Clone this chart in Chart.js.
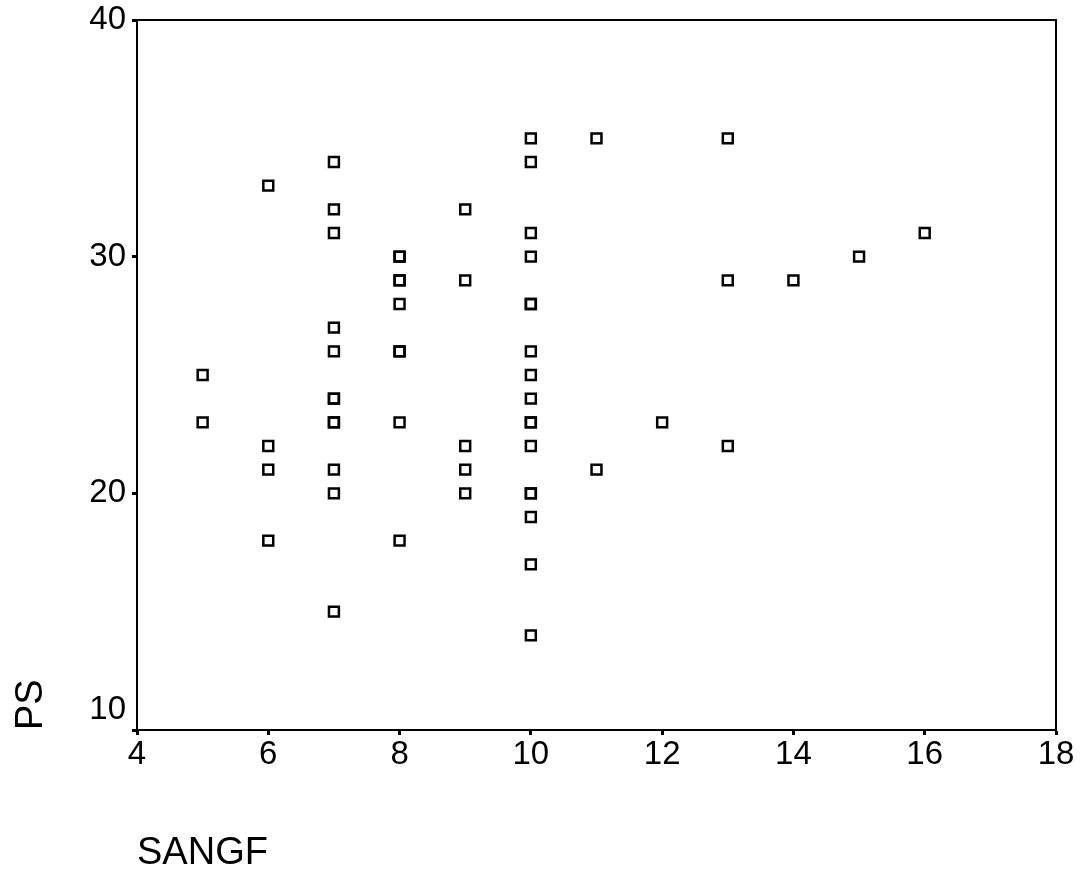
<!DOCTYPE html>
<html>
<head>
<meta charset="utf-8">
<script src="https://cdn.jsdelivr.net/npm/chart.js@4/dist/chart.umd.min.js"></script>
<style>
html,body{margin:0;padding:0;background:#fff;}
#wrap{width:1089px;height:877px;}
</style>
</head>
<body>
<div id="wrap"><canvas id="c" width="1089" height="877"></canvas></div>
<script>
// SANGF (x) and PS (y) values; repeated pairs are drawn twice (appear bolder)
const sangf = [5,5,
  6,6,6,6,
  7,7,7,7,7,7,7,7,7,7,7,7,
  8,8,8,8,8,8,8,8,8,
  9,9,9,9,9,
  10,10,10,10,10,10,10,10,10,10,10,10,10,10,10,10,10,
  11,11,12,13,13,13,14,15,16];
const ps = [25,23,
  33,22,21,18,
  34,32,31,27,26,24,24,23,23,21,20,15,
  30,30,29,29,28,26,26,23,18,
  32,29,22,21,20,
  35,34,31,30,28,28,26,25,24,23,23,22,20,20,19,17,14,
  35,21,23,35,29,22,29,30,31];
const xTickValues = [4,6,8,10,12,14,16,18];
const yTickValues = [10,20,30,40];
const xTitle = 'SANGF';
const yTitle = 'PS';

const points = sangf.map((x,i)=>({x:x,y:ps[i]}));

const frame = {
  id:'frame',
  afterDatasetsDraw(chart){
    const a = chart.chartArea, ctx = chart.ctx;
    ctx.save();
    ctx.strokeStyle='#000';
    ctx.lineWidth=2;
    ctx.strokeRect(a.left, a.top, a.right-a.left, a.bottom-a.top);
    ctx.restore();
  }
};

const font = {family:'"Liberation Sans", Arial, sans-serif', size:33};
new Chart(document.getElementById('c'), {
  type:'scatter',
  data:{datasets:[{
    data:points,
    pointStyle:'rect',
    pointRadius:7,
    pointHoverRadius:7,
    borderColor:'#000',
    backgroundColor:'rgba(255,255,255,0)',
    borderWidth:2.5
  }]},
  options:{
    responsive:false,
    animation:false,
    events:[],
    layout:{padding:{left:0,top:0,right:33,bottom:0}},
    plugins:{legend:{display:false},tooltip:{enabled:false}},
    scales:{
      x:{
        type:'linear', min:4, max:18,
        afterBuildTicks(s){ s.ticks = xTickValues.map(v=>({value:v})); },
        afterFit(s){ s.height = 147; },
        ticks:{color:'#000', font:font, padding:0, maxRotation:0, autoSkip:false},
        grid:{drawOnChartArea:false, drawTicks:true, tickLength:5, tickWidth:3, tickColor:'#000'},
        border:{display:true, color:'#000', width:2},
        title:{display:true, text:xTitle, align:'start', color:'#000',
          font:{family:'"Liberation Sans", Arial, sans-serif', size:38}, padding:{top:0,bottom:1}}
      },
      y:{
        type:'linear', min:10, max:40,
        afterBuildTicks(s){ s.ticks = yTickValues.map(v=>({value:v})); },
        afterFit(s){ s.width = 137; s.paddingTop = 20; s.paddingBottom = 0; },
        ticks:{color:'#000', font:font, padding:6, autoSkip:false,
          callback:(v)=> v===yTickValues[0] ? [String(v),''] : String(v)},
        grid:{drawOnChartArea:false, drawTicks:true, tickLength:5, tickWidth:3, tickColor:'#000'},
        border:{display:true, color:'#000', width:2},
        title:{display:true, text:yTitle, align:'start', color:'#000',
          font:{family:'"Liberation Sans", Arial, sans-serif', size:38}, padding:{top:9,bottom:0}}
      }
    }
  },
  plugins:[frame]
});
</script>
</body>
</html>
